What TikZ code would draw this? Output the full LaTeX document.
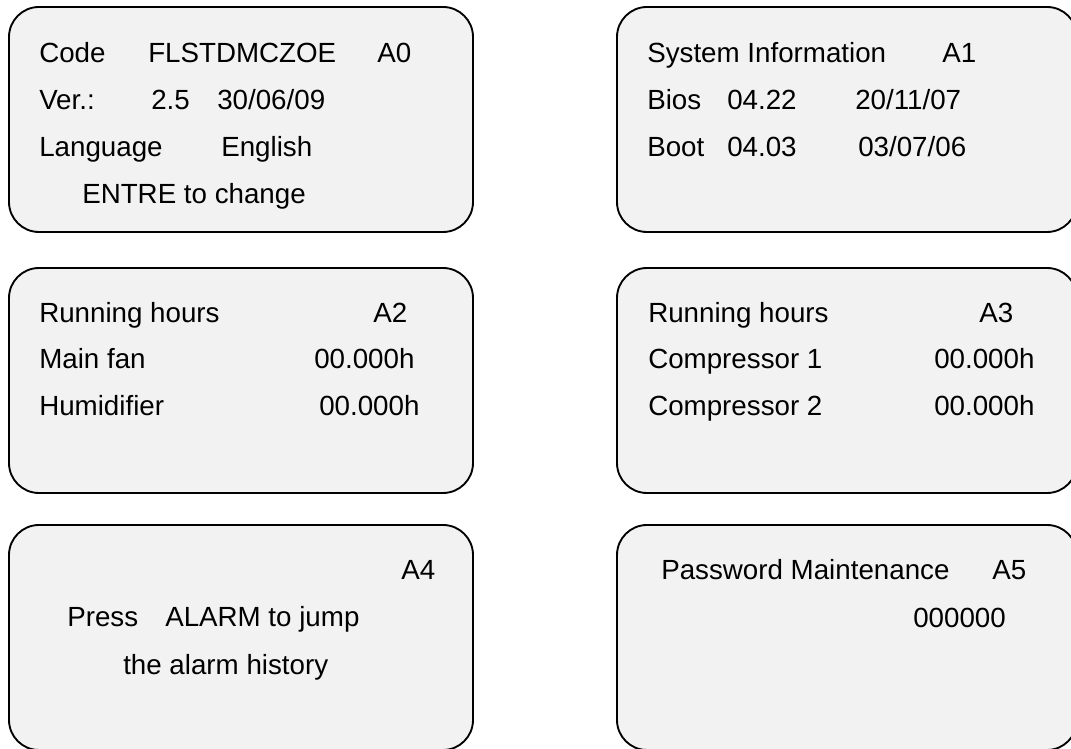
\documentclass[tikz,border=0pt]{standalone}
\usepackage{fontspec}
\setmainfont{Liberation Sans}
\usepackage{xcolor}
\usetikzlibrary{positioning}
\definecolor{panelgray}{RGB}{242,242,242}
\definecolor{paneldark}{RGB}{0,0,0}
\tikzset{
  panel box/.style={
    draw=paneldark,
    fill=panelgray,
    rounded corners=22.5pt,
    line width=1.4pt,
    minimum width=348pt,
    minimum height=168.75pt,
    inner sep=0pt,
  },
  panel text/.style={
    anchor=base west,
    inner sep=0pt,
    font=\fontsize{20.8pt}{24pt}\selectfont,
  },
}
\begin{document}
\begin{tikzpicture}[x=0.75pt,y=0.75pt]
  \useasboundingbox (0,0) rectangle (1071,749);
  % panels
  \node[panel box] (a0) at (241,629.5) {};
  \node[panel box, minimum width=345pt] (a1) at (847,629.5) {};
  \node[panel box] (a2) at (241,368.5) {};
  \node[panel box, minimum width=345pt] (a3) at (847,368.5) {};
  \node[panel box] (a4) at (241,111.5) {};
  \node[panel box, minimum width=345pt] (a5) at (847,111.5) {};
  % A0
  \node[panel text] (a0code) at (39,686) {Code};
  \node[panel text] (a0name) at (148,686) {FLSTDMCZOE};
  \node[panel text] (a0id) at (377,686) {A0};
  \node[panel text] (a0ver) at (39,639) {Ver.:};
  \node[panel text] (a0num) at (151,639) {2.5};
  \node[panel text] (a0date) at (217,639) {30/06/09};
  \node[panel text] (a0lang) at (39,592) {Language};
  \node[panel text] (a0eng) at (221,592) {English};
  \node[panel text] (a0hint) at (82,545) {ENTRE to change};
  % A1
  \node[panel text] (a1sys) at (647,686) {System Information};
  \node[panel text] (a1id) at (942,686) {A1};
  \node[panel text] (a1bios) at (647,639) {Bios};
  \node[panel text] (a1biosv) at (727,639) {04.22};
  \node[panel text] (a1biosd) at (855,639) {20/11/07};
  \node[panel text] (a1boot) at (647,592) {Boot};
  \node[panel text] (a1bootv) at (727,592) {04.03};
  \node[panel text] (a1bootd) at (858,592) {03/07/06};
  % A2
  \node[panel text] (a2run) at (39,426) {Running hours};
  \node[panel text] (a2id) at (373,426) {A2};
  \node[panel text] (a2fan) at (39,380) {Main fan};
  \node[panel text] (a2fanh) at (314,380) {00.000h};
  \node[panel text] (a2hum) at (39,333) {Humidifier};
  \node[panel text] (a2humh) at (319,333) {00.000h};
  % A3
  \node[panel text] (a3run) at (648,426) {Running hours};
  \node[panel text] (a3id) at (979,426) {A3};
  \node[panel text] (a3cpa) at (648,380) {Compressor 1};
  \node[panel text] (a3cpah) at (934,380) {00.000h};
  \node[panel text] (a3cpb) at (648,333) {Compressor 2};
  \node[panel text] (a3cpbh) at (934,333) {00.000h};
  % A4
  \node[panel text] (a4id) at (401,169) {A4};
  \node[panel text] (a4press) at (67,122) {Press};
  \node[panel text] (a4alarm) at (165,122) {ALARM to jump};
  \node[panel text] (a4hist) at (123,74) {the alarm history};
  % A5
  \node[panel text] (a5pwd) at (661,169) {Password Maintenance};
  \node[panel text] (a5id) at (992,169) {A5};
  \node[panel text] (a5code) at (913,121) {000000};
\end{tikzpicture}
\end{document}
